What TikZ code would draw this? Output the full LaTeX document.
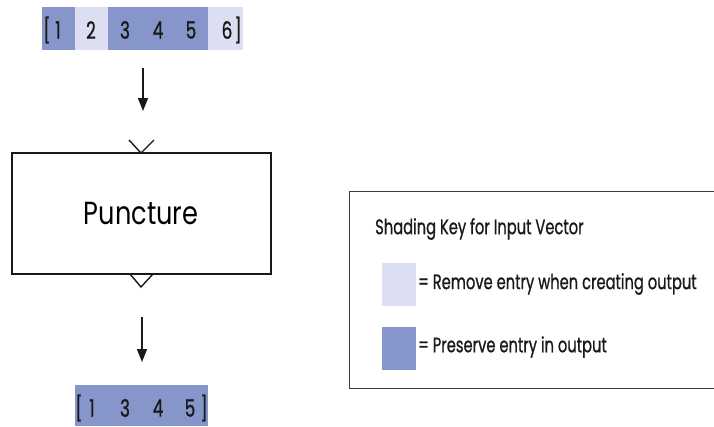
\documentclass[tikz,border=0pt]{standalone}
\usepackage{fontspec}
\setmainfont{Poppins}
\newfontfamily\condfont[FakeStretch=0.7,FakeBold=0.8]{Poppins}
\newfontfamily\blockfont[FakeStretch=0.8]{Poppins}
\usetikzlibrary{arrows.meta}
\definecolor{keep}{RGB}{135,150,202}
\definecolor{drop}{RGB}{220,223,241}
\definecolor{ink}{RGB}{25,25,25}
\tikzset{
  cell/.style={inner sep=0pt, outer sep=0pt},
  digit/.style={inner sep=0pt, font=\condfont\fontsize{24}{24}\selectfont, text=ink},
  keytext/.style={inner sep=0pt, anchor=west, font=\condfont\fontsize{21}{21}\selectfont, text=ink},
  flow/.style={line width=1.6pt, draw=ink, -{Triangle[width=10pt,length=13pt]}},
  chev/.style={line width=1.4pt, draw=ink},
}
\begin{document}
\begin{tikzpicture}[x=1pt,y=-1pt]
\useasboundingbox (0,0) rectangle (714,426);
% top input vector
\fill[keep] (42,7) rectangle (75,50);
\fill[drop] (75,7) rectangle (108,50);
\fill[keep] (108,7) rectangle (208,50);
\fill[drop] (208,7) rectangle (243,50);
\node[digit] (tb1) at (47,30) {[};
\node[digit] (t1) at (58,30) {1};
\node[digit] (t2) at (91,30) {2};
\node[digit] (t3) at (125,30) {3};
\node[digit] (t4) at (158,30) {4};
\node[digit] (t5) at (191,30) {5};
\node[digit] (t6) at (227,30) {6};
\node[digit] (tb2) at (238,30) {]};
% arrow 1
\coordinate (a1s) at (143,68);
\coordinate (a1e) at (143,111);
\draw[flow] (a1s) -- (a1e);
% block
\node[draw=ink, line width=2pt, minimum width=259pt, minimum height=121pt, inner sep=0pt,
      font=\blockfont\fontsize{32}{32}\selectfont] (blk) at (141,213.5) {Puncture};
\coordinate (ci) at (141,153);
\draw[chev] ([shift={(-12,-13)}]ci) -- (ci) -- ([shift={(13,-13)}]ci);
\coordinate (co) at (141,287);
\draw[chev] ([shift={(-11,-13)}]co) -- (co) -- ([shift={(12,-13)}]co);
% arrow 2
\coordinate (a2s) at (142,317);
\coordinate (a2e) at (142,362);
\draw[flow] (a2s) -- (a2e);
% output vector
\fill[keep] (75,385) rectangle (208,426);
\node[digit] (bb1) at (79,408) {[};
\node[digit] (b1) at (92,408) {1};
\node[digit] (b3) at (125,408) {3};
\node[digit] (b4) at (158,408) {4};
\node[digit] (b5) at (190,408) {5};
\node[digit] (bb2) at (204,408) {]};
% key
\begin{scope}
\clip (0,0) rectangle (714,426);
\draw[line width=1pt, draw=ink!85] (349,191) rectangle (740,388);
\end{scope}
\node[keytext] (kt) at (375,229) {Shading Key for Input Vector};
\fill[drop] (382,263) rectangle (416,306);
\node[keytext] (k1) at (418,284) {= Remove entry when creating output};
\fill[keep] (382,327) rectangle (416,370);
\node[keytext] (k2) at (418,347) {= Preserve entry in output};
\end{tikzpicture}
\end{document}
